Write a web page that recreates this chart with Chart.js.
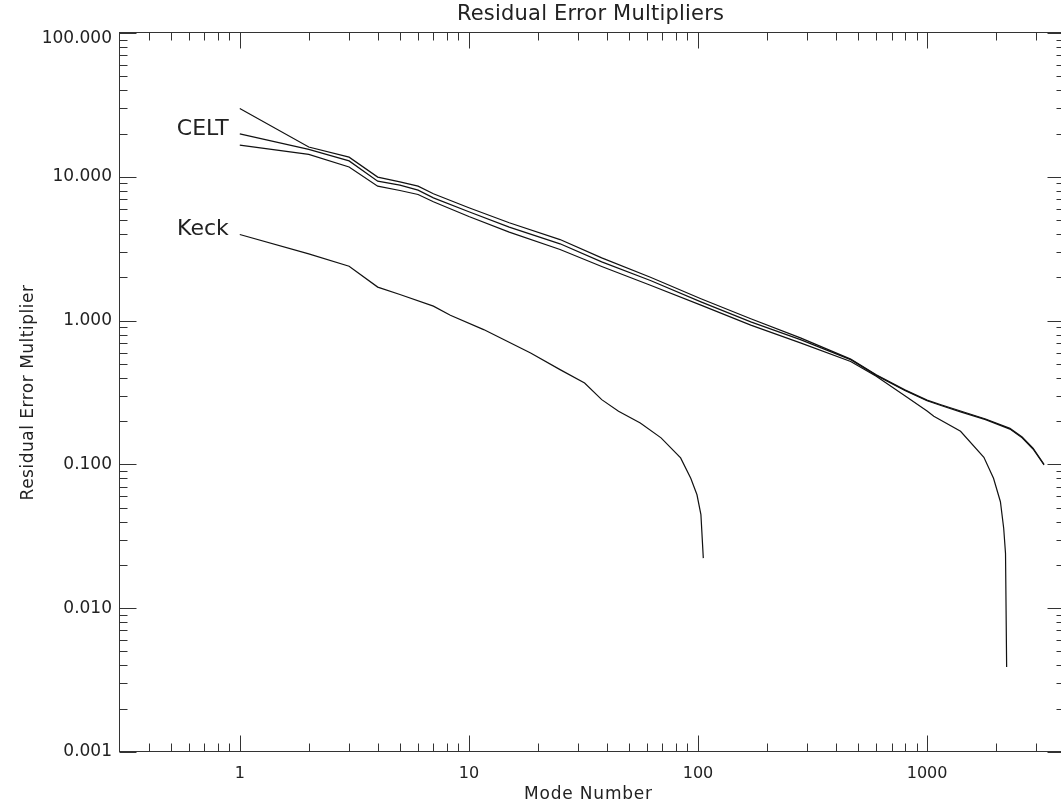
<!DOCTYPE html>
<html><head><meta charset="utf-8">
<script src="https://cdn.jsdelivr.net/npm/chart.js@4/dist/chart.umd.min.js"></script>
<style>html,body{margin:0;padding:0;background:#fff}</style>
</head><body>
<canvas id="c" width="1061" height="803"></canvas>
<script>
// ---- data ----
const celtAModes  = [1,2,3,4,5,6,7,10,15,25,38,62,103,170,280,464,600,800,1000,1150,1400,1800,2300,2600,2900,3240];
const celtAValues = [29.9,16.1,13.7,9.95,9.23,8.61,7.62,6.09,4.79,3.66,2.73,2.00,1.42,1.03,0.758,0.54,0.42,0.33,0.28,0.26,0.235,0.207,0.178,0.155,0.13,0.10];

const celtBModes  = [1,2,3,4,5,6,7,10,15,25,38,62,103,170,280,464,600,800,1000,1150,1400,1800,2300,2600,2900,3240];
const celtBValues = [19.9,15.5,12.9,9.33,8.75,8.08,7.14,5.71,4.47,3.42,2.56,1.90,1.35,0.98,0.738,0.535,0.416,0.327,0.277,0.257,0.232,0.205,0.176,0.153,0.128,0.099];

const celtCModes  = [1,2,3,4,5,6,7,10,15,25,38,62,103,170,280,464,600,800,1000,1070,1400,1770,1950,2090,2160,2200,2225];
const celtCValues = [16.6,14.3,11.7,8.61,8.03,7.53,6.70,5.29,4.12,3.12,2.38,1.76,1.28,0.93,0.70,0.52,0.41,0.30,0.235,0.216,0.17,0.112,0.080,0.055,0.036,0.024,0.0039];

const keckModes  = [1,2,3,4,5,7,8.3,11.6,18.6,25,32,38,45,56,69,84,93,99,103,105.5];
const keckValues = [3.97,2.91,2.39,1.71,1.52,1.26,1.09,0.866,0.596,0.456,0.368,0.282,0.234,0.194,0.153,0.111,0.080,0.0615,0.0447,0.0223];

const xMajorValues = [1,10,100,1000];
const xTickLabels  = ['1','10','100','1000'];
const yMajorValues = [0.001,0.01,0.1,1,10,100];
const yTickLabels  = ['0.001','0.010','0.100','1.000','10.000','100.000'];

const seriesLabels = ['CELT','Keck'];
const titleText = 'Residual Error Multipliers';
const xTitle = 'Mode Number';
const yTitle = 'Residual Error Multiplier';

const xMin = 0.3, xMax = 4000, yMin = 0.001, yMax = 100;

// ---- helpers ----
const toPts = (xs, ys) => xs.map((x, i) => ({x, y: ys[i]}));
function logTicks(min, max) {
  const out = [];
  for (let e = Math.floor(Math.log10(min)); e <= Math.ceil(Math.log10(max)); e++) {
    for (let m = 1; m <= 9; m++) {
      const v = +(m * Math.pow(10, e)).toPrecision(6);
      if (v >= min * 0.9999 && v <= max * 1.0001) out.push({value: v});
    }
  }
  return out;
}
const isMajor = (v, majors) => majors.findIndex(m => Math.abs(m - v) / m < 1e-6);

const FONT = "'DejaVu Sans', sans-serif";
const INK = '#222';
const PLOT_RIGHT = 1065; // the reference's plot box runs a few pixels past the picture edge

const stretchX = {
  id: 'stretchX',
  afterLayout(chart) {
    const a = chart.chartArea, x = chart.scales.x;
    a.right = PLOT_RIGHT; a.width = a.right - a.left;
    x.right = PLOT_RIGHT; x.width = x.right - x.left;
    x.configure();
  }
};

const frameTicks = {
  id: 'frameTicks',
  afterDatasetsDraw(chart) {
    const {ctx, chartArea: a, scales: {x, y}} = chart;
    const L = Math.round(a.left) - 0.5, R = Math.round(a.right) - 0.5;
    const T = Math.round(a.top) - 0.5, B = Math.round(a.bottom) - 0.5;
    ctx.save();
    ctx.strokeStyle = '#333';
    ctx.lineWidth = 1;
    ctx.strokeRect(L, T, R - L, B - T);
    ctx.beginPath();
    x.ticks.forEach(t => {
      const p = Math.round(x.getPixelForValue(t.value)) + 0.5;
      if (p <= L + 1 || p >= R - 1) return;
      const len = isMajor(t.value, xMajorValues) >= 0 ? 16 : 8;
      ctx.moveTo(p, B); ctx.lineTo(p, B - len);
      ctx.moveTo(p, T); ctx.lineTo(p, T + len);
    });
    y.ticks.forEach(t => {
      const p = Math.round(y.getPixelForValue(t.value)) + 0.5;
      const len = isMajor(t.value, yMajorValues) >= 0 ? 17 : 8;
      ctx.moveTo(L, p); ctx.lineTo(L + len, p);
      ctx.moveTo(R, p); ctx.lineTo(R - len, p);
    });
    ctx.stroke();
    ctx.restore();
  },
  afterDraw(chart) {
    const {ctx, chartArea: a, scales: {x, y}} = chart;
    ctx.save();
    ctx.fillStyle = INK;
    ctx.textBaseline = 'alphabetic';
    // curve labels at the start of the series
    ctx.font = "22px " + FONT;
    ctx.textAlign = 'right';
    const x0 = x.getPixelForValue(celtBModes[0]) - 11;
    ctx.fillText(seriesLabels[0], x0, y.getPixelForValue(celtBValues[0]) + 1);
    ctx.fillText(seriesLabels[1], x0, y.getPixelForValue(keckValues[0]) + 1);
    // chart title and axis titles
    const cx = (a.left + chart.width) / 2;
    ctx.textAlign = 'center';
    ctx.font = "21px " + FONT;
    ctx.letterSpacing = '0.2px';
    ctx.fillText(titleText, cx, 20);
    ctx.font = "17px " + FONT;
    ctx.letterSpacing = '0.8px';
    ctx.fillText(xTitle, cx - 2, 799);
    ctx.letterSpacing = '0.5px';
    ctx.translate(33, (a.top + a.bottom) / 2);
    ctx.rotate(-Math.PI / 2);
    ctx.fillText(yTitle, 0, 0);
    ctx.restore();
  }
};

const lineStyle = {borderColor: '#111', borderWidth: 1.2, pointRadius: 0, tension: 0, fill: false};

new Chart(document.getElementById('c'), {
  type: 'line',
  data: {
    datasets: [
      {label: 'CELT a', data: toPts(celtAModes, celtAValues), ...lineStyle},
      {label: 'CELT b', data: toPts(celtBModes, celtBValues), ...lineStyle},
      {label: 'CELT c', data: toPts(celtCModes, celtCValues), ...lineStyle},
      {label: 'Keck', data: toPts(keckModes, keckValues), ...lineStyle}
    ]
  },
  options: {
    responsive: false,
    animation: false,
    devicePixelRatio: 1,
    layout: {padding: {left: 0, top: 33, right: 0, bottom: 0}},
    plugins: {
      legend: {display: false},
      tooltip: {enabled: false},
      title: {display: false}
    },
    scales: {
      x: {
        type: 'logarithmic', min: xMin, max: xMax,
        grid: {display: false, drawTicks: false, tickLength: 0},
        border: {display: false},
        afterBuildTicks: s => { s.ticks = logTicks(xMin, xMax); },
        afterFit: s => { s.height = 51; },
        ticks: {
          autoSkip: false, maxRotation: 0, padding: 12, color: INK,
          font: {family: FONT, size: 16},
          callback: v => { const i = isMajor(v, xMajorValues); return i >= 0 ? xTickLabels[i] : ''; }
        },
        title: {display: false}
      },
      y: {
        type: 'logarithmic', min: yMin, max: yMax,
        grid: {display: false, drawTicks: false, tickLength: 0},
        border: {display: false},
        afterBuildTicks: s => { s.ticks = logTicks(yMin, yMax); },
        afterFit: s => { s.width = 120; },
        ticks: {
          autoSkip: false, padding: 8, color: INK,
          font: c => ({family: FONT, size: 17, lineHeight: (c.tick && c.tick.value === yMax) ? 0.7 : 1.2}),
          callback: v => {
            const i = isMajor(v, yMajorValues);
            if (i < 0) return '';
            return v === yMax ? ['', yTickLabels[i]] : yTickLabels[i];
          }
        },
        title: {display: false}
      }
    }
  },
  plugins: [stretchX, frameTicks]
});
</script>
</body></html>
